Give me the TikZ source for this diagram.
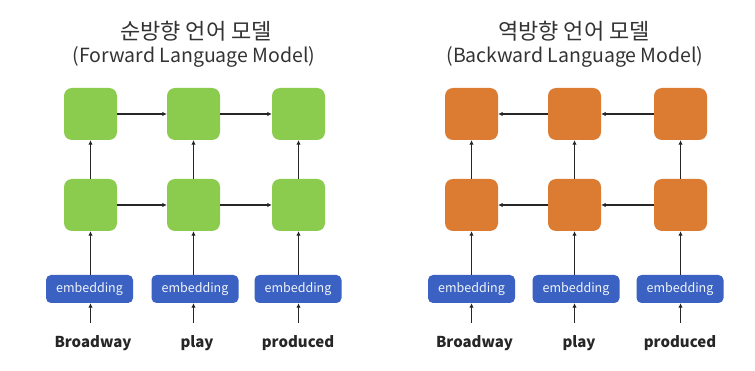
\documentclass[tikz,border=0pt]{standalone}
\usepackage{fontspec}
\setmainfont{Noto Sans CJK KR}
\usetikzlibrary{arrows.meta}
\definecolor{gbox}{HTML}{8BCB4E}
\definecolor{obox}{HTML}{DC7B32}
\definecolor{ebox}{HTML}{3B62C2}
\definecolor{ttl}{HTML}{333333}
\tikzset{
  cell/.style={minimum width=53pt,minimum height=52pt,inner sep=0pt,rounded corners=8pt,draw=none},
  gcell/.style={cell,fill=gbox},
  ocell/.style={cell,fill=obox},
  embbox/.style={minimum width=87pt,minimum height=28pt,inner sep=0pt,rounded corners=5pt,fill=ebox,text=white!92!ebox,font=\fontsize{12.5}{12.5}\selectfont},
  word/.style={inner sep=0pt,font=\bfseries\fontsize{15}{15}\selectfont,text=black!85},
  arr/.style={-{Latex[length=4.5pt,width=4.5pt]},line width=1.4pt,black!85},
  titlek/.style={inner sep=0pt,font=\fontsize{22}{22}\selectfont,text=ttl},
  titlee/.style={inner sep=0pt,font=\fontsize{19.5}{19.5}\selectfont,text=ttl}
}
\begin{document}
\begin{tikzpicture}[x=1pt,y=-1pt]
\useasboundingbox[fill=white] (0,0) rectangle (755,371);
% titles
\node[titlek] (tk1) at (196,31) {순방향 언어 모델};
\node[titlee] (te1) at (194,57) {(Forward Language Model)};
\node[titlek] (tk2) at (574,31) {역방향 언어 모델};
\node[titlee] (te2) at (575,57) {(Backward Language Model)};
% left panel
\foreach \n/\x/\ex/\wx/\w in {1/90.5/89.5/93/Broadway,2/193.5/195/197/play,3/298.5/298/298/produced}{
  \node[gcell] (la\n) at (\x,114) {};
  \node[gcell] (lb\n) at (\x,205) {};
  \node[embbox] (le\n) at (\ex,289) {embedding};
  \node[word] (lw\n) at (\wx,343) {\w};
  \coordinate (ls\n) at (\x,323);
}
% right panel
\foreach \n/\x/\ex/\wx/\w in {1/471.5/471.5/474.5/Broadway,2/574.5/576/579/play,3/680.5/680/680/produced}{
  \node[ocell] (ra\n) at (\x,114) {};
  \node[ocell] (rb\n) at (\x,205) {};
  \node[embbox] (re\n) at (\ex,289) {embedding};
  \node[word] (rw\n) at (\wx,343) {\w};
  \coordinate (rs\n) at (\x,323);
}
% vertical connectors
\foreach \p in {l,r}{
  \foreach \n in {1,2,3}{
    \draw[arr] (\p b\n.north) -- (\p a\n.south);
    \draw[arr] (\p e\n.north -| \p b\n.south) -- (\p b\n.south);
    \draw[arr] (\p s\n) -- (\p e\n.south -| \p s\n);
  }
}
% horizontal connectors
\draw[arr] (la1) -- (la2);
\draw[arr] (la2) -- (la3);
\draw[arr] (lb1) -- (lb2);
\draw[arr] (lb2) -- (lb3);
\draw[arr] (ra3) -- (ra2);
\draw[arr] (ra2) -- (ra1);
\draw[arr] (rb3) -- (rb2);
\draw[arr] (rb2) -- (rb1);
\end{tikzpicture}
\end{document}
